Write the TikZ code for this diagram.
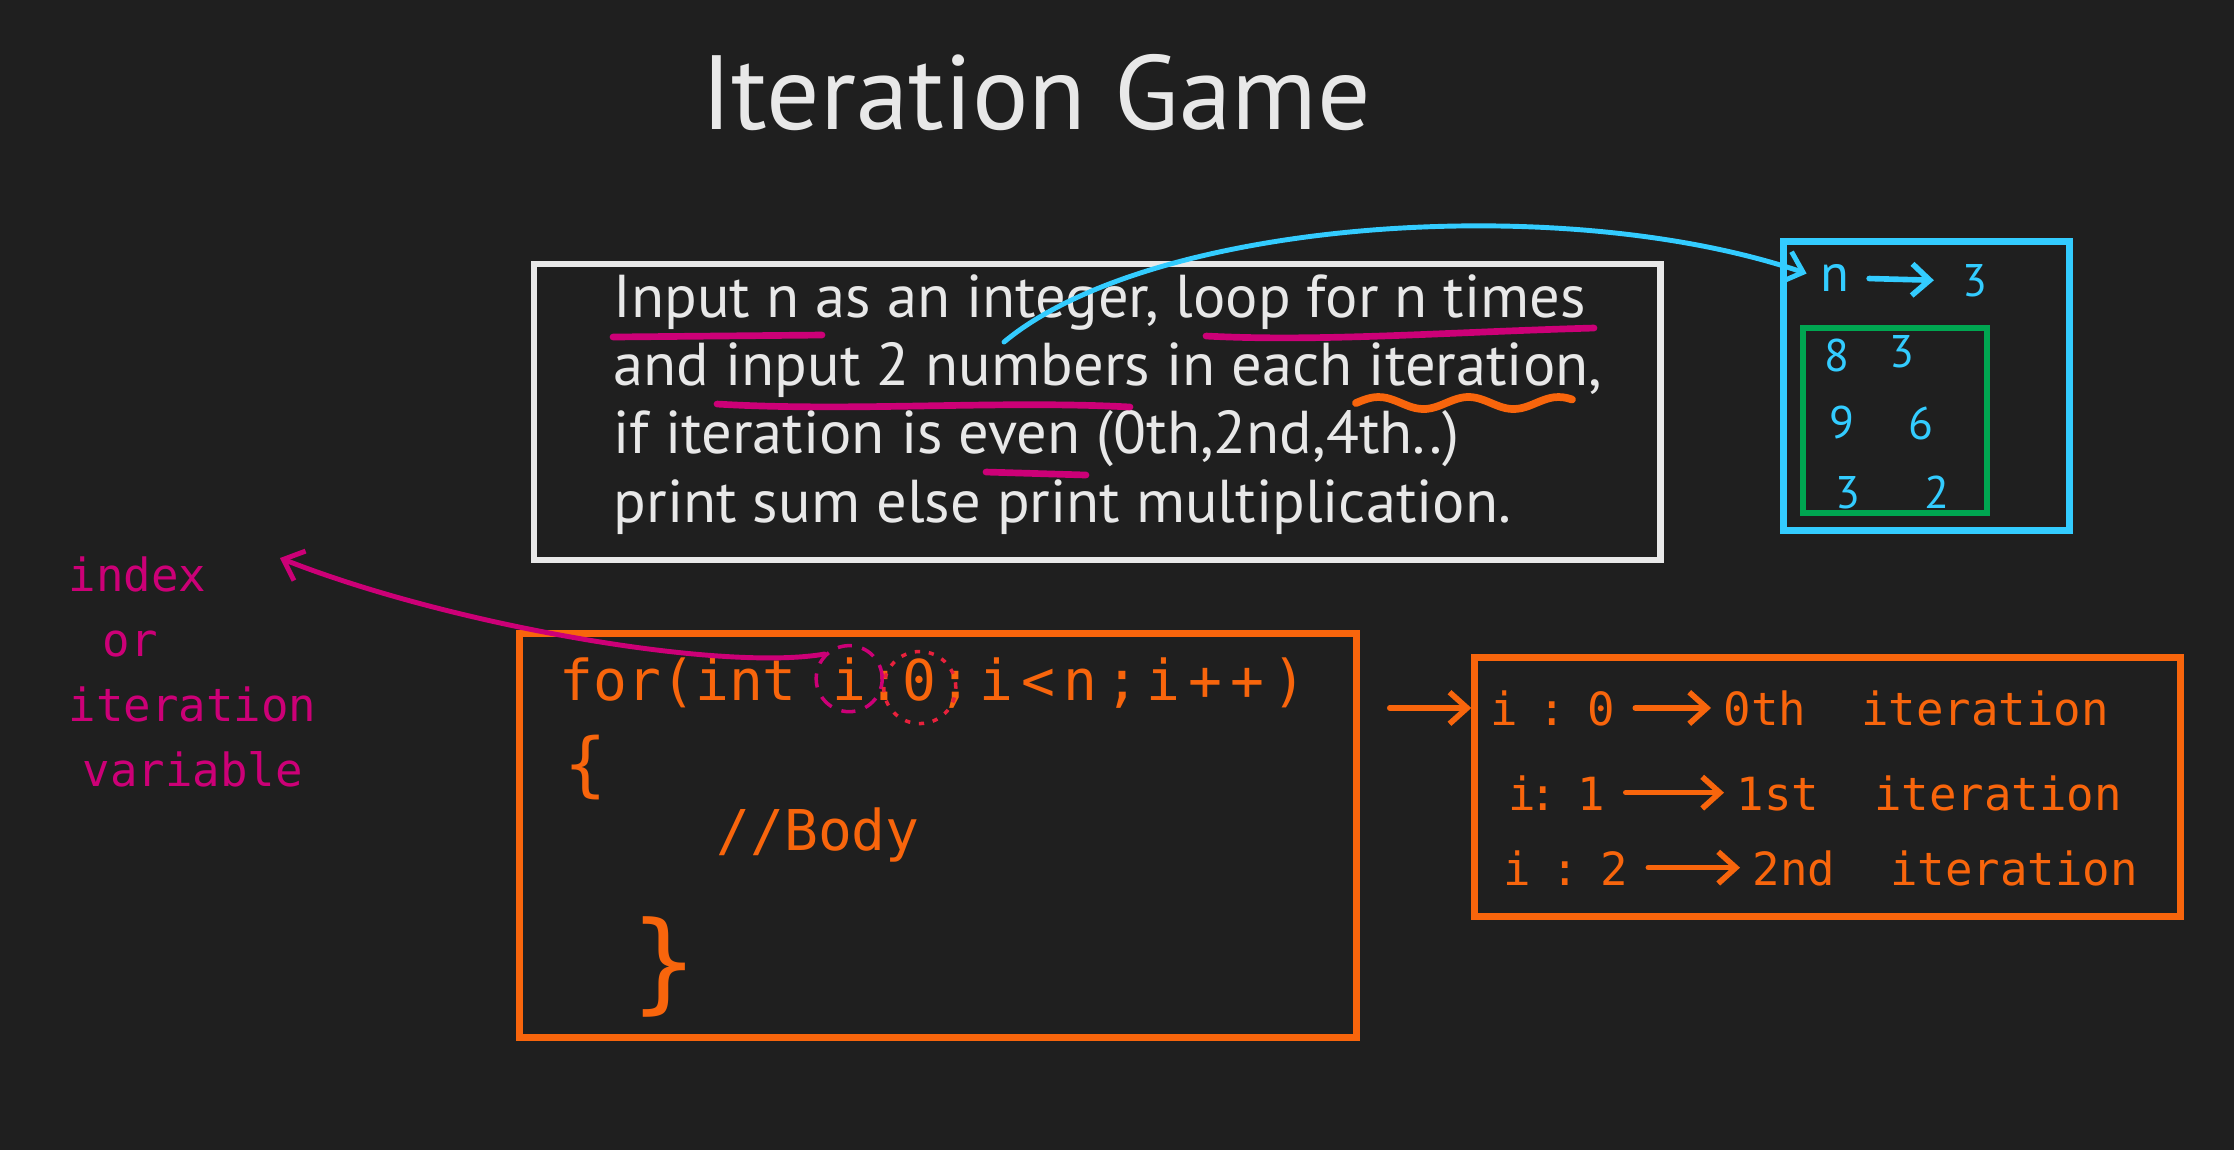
\documentclass[tikz,border=0pt]{standalone}
\usepackage{fontspec}
\setmainfont{PT Sans}
\setmonofont{DejaVu Sans Mono}
\usetikzlibrary{arrows.meta, positioning, calc}

\definecolor{board}{HTML}{1F1F1F}
\definecolor{chalk}{HTML}{E8E8E8}
\definecolor{hilite}{HTML}{CC0077}
\definecolor{codeorange}{HTML}{F8650C}
\definecolor{skyblue}{HTML}{33CCFF}
\definecolor{boxgreen}{HTML}{00A651}
\definecolor{ringred}{HTML}{E8213C}

\begin{document}
\begin{tikzpicture}[
    x=0.01cm, y=-0.01cm,
    heading/.style={font=\fontsize{30}{36}\selectfont, text=chalk, inner sep=0, anchor=base},
    taskline/.style={font=\fontsize{17.2}{20}\selectfont, text=chalk, anchor=base west, inner sep=0},
    frame/.style={draw=#1, line width=2pt, inner sep=0},
    underline/.style={draw=hilite, line width=1.9pt, line cap=round},
    pointer/.style={-{Straight Barb[length=5pt, width=9pt]}, line width=1.6pt, line cap=round},
    ring/.style={circle, draw=#1, line width=1pt, inner sep=0},
    codetext/.style={font=\ttfamily\fontsize{16}{19}\selectfont, text=codeorange, anchor=base west, inner sep=0},
    condtext/.style={codetext, font=\ttfamily\fontsize{16}{19}\selectfont\addfontfeature{LetterSpace=14}},
    iterline/.style={font=\ttfamily\fontsize{13}{16}\selectfont, text=codeorange, anchor=base west, inner sep=0},
    iterlhs/.style={iterline, font=\ttfamily\fontsize{13}{16}\selectfont\addfontfeature{LetterSpace=-15}},
    note/.style={font=\ttfamily\fontsize{13}{18.5}\selectfont, text=hilite, inner sep=0},
    digit/.style={font=\fontsize{13}{16}\selectfont, text=skyblue, inner sep=0}
]

% --- Board ---
\fill[board] (0,0) rectangle (2234,1150);
\useasboundingbox (0,0) rectangle (2234,1150);

% --- Title ---
\node[heading] (title) at (1036,129) {Iteration Game};

% --- Task statement ---
\node[frame=chalk, line width=1.8pt, minimum width=11.26cm, minimum height=2.96cm] (taskbox) at (1097,412) {};
\node[taskline] (task1) at (613,317) {Input n as an integer, loop for n times};
\node[taskline] (task2) at (613,385) {and input 2 numbers in each iteration,};
\node[taskline] (task3) at (613,453) {if iteration is even (0th,2nd,4th..)};
\node[taskline] (task4) at (613,522) {print sum else print multiplication.};

% underlines
\draw[underline] (613,337) -- (822,335);
\draw[underline] (1206,336) .. controls (1320,342) and (1450,332) .. (1594,328);
\draw[underline] (717,404) .. controls (850,412) and (1000,400) .. (1130,407);
\draw[underline] (986,472) -- (1086,475);
\draw[codeorange, line width=2.2pt, line cap=round] plot[domain=1356:1572, samples=50, smooth] (\x, {403-6*sin(4*(\x-1356))});

% --- Sample input ---
\node[frame=skyblue, minimum width=2.85cm, minimum height=2.88cm] (inbox) at (1926.5,386) {};
\node[digit, font=\fontsize{15}{18}\selectfont] (nval) at (1835,278) {n};
\node[digit] (nthree) at (1975,281) {3};
\draw[pointer, draw=skyblue, shorten <=0.19cm, shorten >=0.28cm] (nval.east) -- (nthree.west);
\foreach \v/\px/\py [count=\j] in {8/1837/355, 3/1902/352, 9/1842/422, 6/1921/423, 3/1848/493, 2/1937/492}
    \node[digit] (pair\j) at (\px,\py) {\v};
\node[frame=boxgreen, line width=1.8pt, minimum width=1.84cm, minimum height=1.85cm] (pairbox) at (1895,420.5) {};

% text -> input box
\coordinate (numtail) at (1004,342);
\draw[pointer, draw=skyblue, line width=1.4pt, shorten >=0.14cm] (numtail) .. controls (1150,220) and (1560,190) .. (nval.west);

% --- Loop code ---
\node[frame=codeorange, minimum width=8.36cm, minimum height=4.03cm] (codebox) at (938,835.5) {};
\node[codetext] (forkw) at (559,700) {for(int};
\node[codetext] (ivar) at ([xshift=0.34cm]forkw.base east) {i};
\node[codetext] (eqsign) at (ivar.base east) {:};
\node[codetext] (zero) at (eqsign.base east) {0};
\node[condtext] (cond) at (zero.base east) {;i<n;i++)};
\node[codetext, font=\ttfamily\fontsize{20}{24}\selectfont, anchor=center] (openbrace) at (586,767) {\{};
\node[codetext, anchor=center] (body) at (818,835) {//Body};
\node[codetext, font=\ttfamily\fontsize{31}{36}\selectfont, anchor=center] (closebrace) at (664,967) {\}};

\node[ring=hilite, minimum size=0.66cm, dash pattern=on 4pt off 3pt] (iring) at (ivar.center) {};
\node[ring=ringred, minimum size=0.72cm, dash pattern=on 1.5pt off 2.5pt] (zring) at ([yshift=-0.08cm]zero.center) {};

% --- Index note ---
\node[note, align=left, anchor=north west] (idxnote) at (68,556) {index\\\hspace*{0.34cm}or\\iteration\\\hspace*{0.14cm}variable};
\coordinate (idxtip) at (280,558);
\draw[pointer, draw=hilite, line width=1.4pt] (iring.north west) .. controls (720,672) and (450,625) .. (idxtip);

% --- Iterations ---
\node[frame=codeorange, minimum width=7.05cm, minimum height=2.58cm] (iterbox) at (1827.5,787) {};
\foreach \k/\yb/\lx/\lhs/\rx/\rhs in {0/725/1490/{i : 0}/1723/{0th\ \ iteration}, 1/810/1508/{i: 1}/1736/{1st\ \ iteration}, 2/885/1503/{i : 2}/1752/{2nd\ \ iteration}} {
    \node[iterlhs] (lhs\k) at (\lx,\yb) {\lhs};
    \node[iterline] (rhs\k) at (\rx,\yb) {\rhs};
    \draw[pointer, draw=codeorange, shorten <=0.2cm, shorten >=0.12cm] (lhs\k.east) -- (rhs\k.west |- lhs\k.east);
}
\draw[pointer, draw=codeorange] ($(codebox.east |- lhs0.east)+(30,0)$) -- (iterbox.west |- lhs0.east);

\end{tikzpicture}
\end{document}
